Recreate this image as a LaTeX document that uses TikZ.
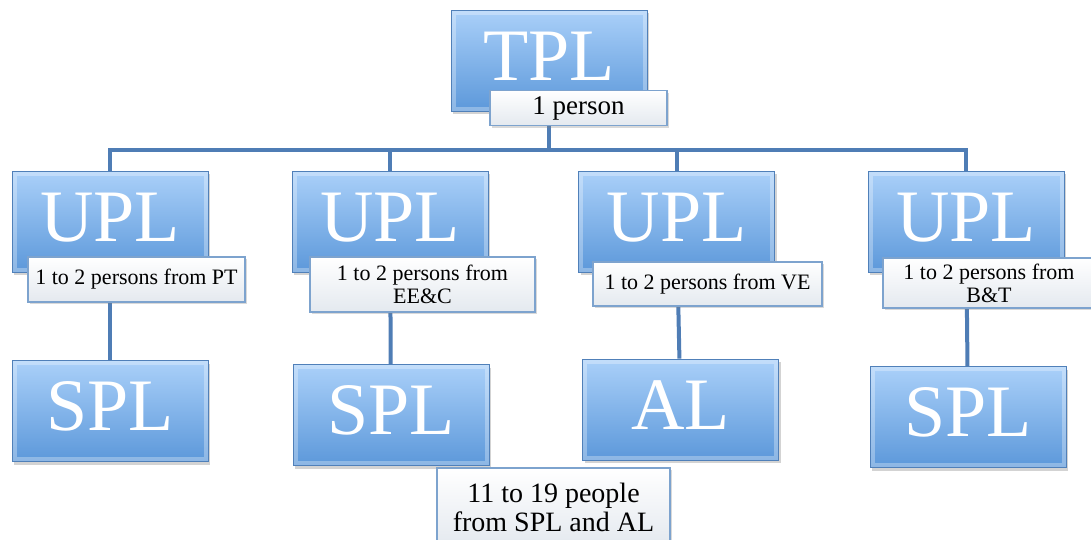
\documentclass[tikz,border=0pt]{standalone}
\usepackage{fontspec}
\setmainfont{Liberation Serif}
\usetikzlibrary{shadows,backgrounds}

\definecolor{boxtop}{RGB}{170,208,249}
\definecolor{boxbot}{RGB}{92,152,218}
\definecolor{boxline}{RGB}{80,128,185}
\definecolor{wire}{RGB}{79,125,181}
\definecolor{noteline}{RGB}{125,163,206}
\definecolor{notebot}{RGB}{228,233,239}

\begin{document}
\begin{tikzpicture}[x=1pt,y=-1pt,
  rolebox/.style={draw=boxline, line width=0.8pt, top color=boxtop, bottom color=boxbot,
    minimum width=196pt, minimum height=101pt, inner sep=0pt, text=white,
    text height=47pt, text depth=8pt,
    font=\fontsize{74}{74}\selectfont,
    path picture={\draw[white, opacity=0.3, line width=9pt]
      (path picture bounding box.south west) rectangle (path picture bounding box.north east);},
    drop shadow={opacity=0.35,shadow xshift=2pt,shadow yshift=-3pt}},
  notebox/.style={draw=noteline, line width=1.2pt, top color=white, bottom color=notebot,
    inner sep=0pt, align=center, font=\fontsize{22}{23}\selectfont,
    drop shadow={opacity=0.3,shadow xshift=2pt,shadow yshift=-2pt}},
  wire/.style={draw=wire, line width=4pt}]
\useasboundingbox (0,0) rectangle (1091,539);

% top level
\node[rolebox] (tpl) at (549,60.5) {TPL};
\node[notebox, minimum width=177pt, minimum height=35pt, font=\fontsize{27}{29}\selectfont] (tplnote) at (578.5,108) {1 person};

% upper row
\node[rolebox] (upl1) at (110,221.5) {UPL};
\node[rolebox] (upl2) at (390,221.5) {UPL};
\node[rolebox] (upl3) at (676.5,221.5) {UPL};
\node[rolebox] (upl4) at (966,221.5) {UPL};

\node[notebox, minimum width=217pt, minimum height=45pt] (note1) at (136.5,279.5) {1 to 2 persons from PT};
\node[notebox, minimum width=225pt, minimum height=55pt] (note2) at (422.5,284.5) {1 to 2 persons from\\EE\&C};
\node[notebox, minimum width=229pt, minimum height=44pt] (note3) at (707.5,284) {1 to 2 persons from VE};
\node[notebox, minimum width=212pt, minimum height=50pt] (note4) at (989,283) {1 to 2 persons from\\B\&T};

% lower row
\node[rolebox] (spl1) at (110,411) {SPL};
\node[rolebox] (spl2) at (391,415) {SPL};
\node[rolebox] (al) at (680.5,409.5) {AL};
\node[rolebox] (spl4) at (968,417) {SPL};

\node[notebox, minimum width=233pt, minimum height=78pt, font=\fontsize{28}{29}\selectfont] (teamnote) at (553.5,507) {11 to 19 people\\from SPL and AL};

% connectors
\coordinate (bus) at (0,150);
\begin{scope}[on background layer]
\foreach \u in {upl1,upl2,upl3,upl4}
  \draw[wire] (tpl.south) -- (tpl.south |- bus) -| (\u.north);
\draw[wire] (upl1) -- (spl1);
\draw[wire] (upl2) -- (spl2);
\draw[wire] (upl3) -- (al);
\draw[wire] (upl4) -- (spl4);
\end{scope}
\end{tikzpicture}
\end{document}
